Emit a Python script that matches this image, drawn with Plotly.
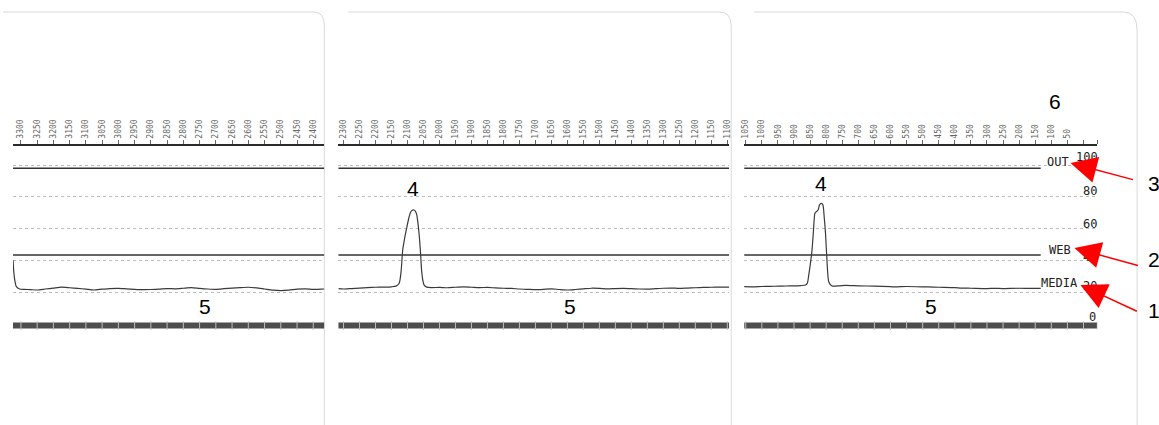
import plotly.graph_objects as go

W, H = 1159, 425

# ---------------- data ----------------
# top-axis tick labels (position, per printed page)
p1_ticks = [3300, 3250, 3200, 3150, 3100, 3050, 3000, 2950, 2900, 2850,
            2800, 2750, 2700, 2650, 2600, 2550, 2500, 2450, 2400]
p2_ticks = [2300, 2250, 2200, 2150, 2100, 2050, 2000, 1950, 1900, 1850,
            1800, 1750, 1700, 1650, 1600, 1550, 1500, 1450, 1400, 1350,
            1300, 1250, 1200, 1150, 1100]
p3_ticks = [1050, 1000, 950, 900, 850, 800, 750, 700, 650, 600,
            550, 500, 450, 400, 350, 300, 250, 200, 150, 100, 50]
p3_extra_ticks = [0, -43]

# sensor profile (MEDIA) per page
p1_pos = [3324, 3322, 3319, 3314, 3304, 3290, 3270, 3250, 3225, 3200, 3175, 3150,
          3125, 3100, 3075, 3050, 3025, 3000, 2975, 2950, 2925, 2900, 2875, 2850,
          2825, 2800, 2775, 2750, 2725, 2700, 2675, 2650, 2625, 2600, 2575, 2550,
          2525, 2500, 2475, 2450, 2425, 2400, 2375, 2366]
p1_val = [40.0, 33.0, 27.7, 23.5, 22.0, 21.8, 21.6, 21.4, 22.0, 22.6, 23.2, 22.8,
          22.4, 21.9, 21.4, 21.9, 22.3, 22.4, 22.1, 21.8, 21.6, 21.7, 21.9, 22.3,
          22.1, 22.5, 22.9, 22.4, 22.0, 21.8, 22.2, 22.6, 22.9, 23.1, 22.7, 22.0,
          21.3, 21.0, 21.3, 21.9, 22.1, 21.8, 21.9, 22.0]

p2_pos = [2316, 2300, 2275, 2250, 2225, 2200, 2175, 2150, 2136, 2126, 2120, 2115,
          2108, 2102, 2096, 2091, 2085, 2080, 2075, 2071, 2067, 2063, 2059, 2056,
          2052, 2048, 2040, 2025, 2000, 1975, 1950, 1925, 1900, 1875, 1850, 1825,
          1800, 1775, 1750, 1725, 1700, 1675, 1650, 1625, 1600, 1575, 1550, 1525,
          1500, 1475, 1450, 1425, 1400, 1375, 1350, 1325, 1300, 1275, 1250, 1225,
          1200, 1175, 1150, 1125, 1094]
p2_val = [22.2, 22.0, 22.3, 22.6, 22.9, 23.1, 23.2, 23.4, 23.8, 25.6, 33.0, 46.5,
          55.0, 61.0, 66.5, 70.0, 71.5, 71.7, 70.8, 68.6, 63.0, 55.0, 44.0, 34.0,
          27.5, 24.5, 23.2, 22.9, 23.0, 22.8, 23.1, 23.3, 23.1, 22.9, 23.0, 22.7,
          22.5, 22.4, 22.0, 21.8, 21.6, 21.8, 22.1, 21.7, 21.4, 21.7, 22.1, 22.5,
          22.4, 22.1, 22.3, 22.4, 22.2, 22.0, 21.9, 22.2, 22.5, 22.6, 22.4, 22.6,
          22.8, 23.0, 23.1, 23.2, 23.2]

p3_pos = [1055, 1030, 1000, 975, 947, 925, 900, 880, 864, 858, 854, 849, 844, 840,
          835, 831, 825, 821, 815, 810, 806, 802, 797, 792, 782, 760, 740, 700,
          650, 600, 586, 550, 500, 483, 450, 400, 380, 350, 300, 276, 250, 200,
          170, 133]
p3_val = [23.5, 23.4, 23.6, 23.7, 23.8, 23.9, 24.0, 24.2, 24.5, 26.0, 31.0, 38.0,
          46.5, 57.0, 69.6, 70.6, 71.7, 74.8, 75.9, 74.8, 67.0, 57.0, 38.0, 26.6,
          23.9, 24.0, 24.3, 24.0, 23.8, 23.5, 23.3, 23.6, 23.4, 23.3, 23.1, 22.9,
          22.6, 22.5, 22.3, 22.4, 22.3, 22.5, 22.4, 22.4]

# threshold levels
out_level = 98.0
web_level = 43.4
bar_level = -1.0
grid_levels = [20, 40, 60, 80, 100]
scale_labels = ["100", "80", "60", "40", "20", "0"]

# page x ranges (position units) and where the plotted lines end on page 3
p1_range = [3324.5, 2366]
p2_range = [2316.5, 1094]
p3_range = [1055, -43]
p3_line_end = 133

# ---------------- layout helpers ----------------
def fx(x):
    return x / W


def fy(y):
    return 1 - y / H


y_dom = [fy(340), fy(146)]
y_rng = [-10.06, 111.95]
pages = [
    dict(dom=[fx(10), fx(323)], rng=p1_range, ticks=p1_ticks, extra=[], pos=p1_pos, val=p1_val, end=p1_range[1]),
    dict(dom=[fx(337), fx(730)], rng=p2_range, ticks=p2_ticks, extra=[], pos=p2_pos, val=p2_val, end=p2_range[1]),
    dict(dom=[fx(745), fx(1100)], rng=p3_range, ticks=p3_ticks, extra=p3_extra_ticks, pos=p3_pos, val=p3_val, end=p3_line_end),
]

fig = go.Figure()
layout = dict(width=W, height=H, margin=dict(l=0, r=0, t=0, b=0), autosize=False,
              paper_bgcolor="white", plot_bgcolor="white", showlegend=False)

dark = "#333333"
for i, pg in enumerate(pages):
    n = "" if i == 0 else str(i + 1)
    xa, ya = "x" + n, "y" + n
    tv = pg["ticks"] + pg["extra"]
    tt = [str(t) for t in pg["ticks"]] + ["" for _ in pg["extra"]]
    layout["xaxis" + n] = dict(domain=pg["dom"], range=pg["rng"], anchor=ya, side="top",
                               showline=True, linecolor="#2a2a2a", linewidth=1.5,
                               ticks="outside", ticklen=4, tickcolor="#666", tickwidth=1,
                               tickvals=tv, ticktext=tt, tickangle=-90,
                               tickfont=dict(family="DejaVu Sans Mono, monospace", size=8, color="#666"),
                               showgrid=False, zeroline=False, fixedrange=True)
    layout["yaxis" + n] = dict(domain=y_dom, range=y_rng, anchor=xa, showline=False,
                               tickvals=grid_levels, showticklabels=False, ticks="",
                               showgrid=True, gridcolor="#bcbcbc", gridwidth=1, griddash="dot",
                               zeroline=False, fixedrange=True)
    x0, x1 = pg["rng"]
    # bottom bar
    fig.add_trace(go.Scatter(x=[x0, x1], y=[bar_level, bar_level], mode="lines",
                             line=dict(color="#4d4d4d", width=6), xaxis=xa, yaxis=ya, hoverinfo="skip"))
    fig.add_trace(go.Scatter(x=tv, y=[bar_level] * len(tv), mode="markers",
                             marker=dict(symbol="line-ns", size=6, line=dict(color="#bdbdbd", width=1)),
                             xaxis=xa, yaxis=ya, hoverinfo="skip"))
    # OUT and WEB thresholds
    for lv in (out_level, web_level):
        fig.add_trace(go.Scatter(x=[x0, pg["end"]], y=[lv, lv], mode="lines",
                                 line=dict(color=dark, width=1.5), xaxis=xa, yaxis=ya, hoverinfo="skip"))
    # MEDIA profile
    fig.add_trace(go.Scatter(x=pg["pos"], y=pg["val"], mode="lines",
                             line=dict(color="#3a3a3a", width=1.2, shape="spline", smoothing=0.6),
                             xaxis=xa, yaxis=ya, hoverinfo="skip"))

fig.update_layout(**layout)

# paper edges
edges = [
    [(0, 12), (312, 12), (323, 12), (323, 25), (323, 425)],
    [(347, 12), (720, 12), (732, 12), (732, 26), (732, 425)],
    [(755, 12), (1126, 12), (1140, 12), (1140, 30), (1140, 425)],
]
for e in edges:
    (a, b, c, d, f) = e
    path = (f"M {fx(a[0])},{fy(a[1])} L {fx(b[0])},{fy(b[1])} "
            f"Q {fx(c[0])},{fy(c[1])} {fx(d[0])},{fy(d[1])} L {fx(f[0])},{fy(f[1])}")
    fig.add_shape(type="path", path=path, xref="paper", yref="paper",
                  line=dict(color="#d9d9d9", width=1), layer="below")

ann = []
big = dict(family="Liberation Sans, Arial, sans-serif", size=21, color="black")
for t, x, y in [("4", 412, 188), ("4", 822, 184), ("5", 203, 306), ("5", 570, 306),
                ("5", 933, 306), ("6", 1057, 101)]:
    ann.append(dict(text=t, x=fx(x), y=fy(y), xref="paper", yref="paper", showarrow=False,
                    xanchor="center", yanchor="middle", font=big))
for t, x, y in [("3", 1149, 183), ("2", 1149, 259), ("1", 1149, 310)]:
    ann.append(dict(text=t, x=fx(x), y=fy(y), xref="paper", yref="paper", showarrow=False,
                    xanchor="left", yanchor="middle", font=big))

mono = dict(family="DejaVu Sans Mono, monospace", size=12, color="#222")
for t, x, y in [("OUT", 1060, 162), ("WEB", 1062, 250), ("MEDIA", 1062, 283)]:
    ann.append(dict(text=t, x=fx(x), y=fy(y), xref="paper", yref="paper", showarrow=False,
                    xanchor="center", yanchor="middle", font=mono))
for t, x, y in zip(scale_labels, [1090, 1093, 1093, 1093, 1093, 1095], [157, 191, 224, 257, 286, 317]):
    ann.append(dict(text=t, x=fx(x), y=fy(y), xref="paper", yref="paper", showarrow=False,
                    xanchor="center", yanchor="middle", font=mono))

for tip, tail in [((1073, 163), (1137, 180)), ((1077, 248), (1142, 266)), ((1083, 285), (1141, 312))]:
    ann.append(dict(text="", x=fx(tip[0]), y=fy(tip[1]), xref="paper", yref="paper",
                    showarrow=True, arrowhead=2, arrowsize=3.5, arrowwidth=1.5, arrowcolor="#ff0000",
                    ax=tail[0] - tip[0], ay=tail[1] - tip[1], standoff=0))
fig.update_layout(annotations=ann)

fig.write_html("out.html", config={"displayModeBar": False},
               post_script="document.body.style.margin='0';document.body.style.overflow='hidden';")
